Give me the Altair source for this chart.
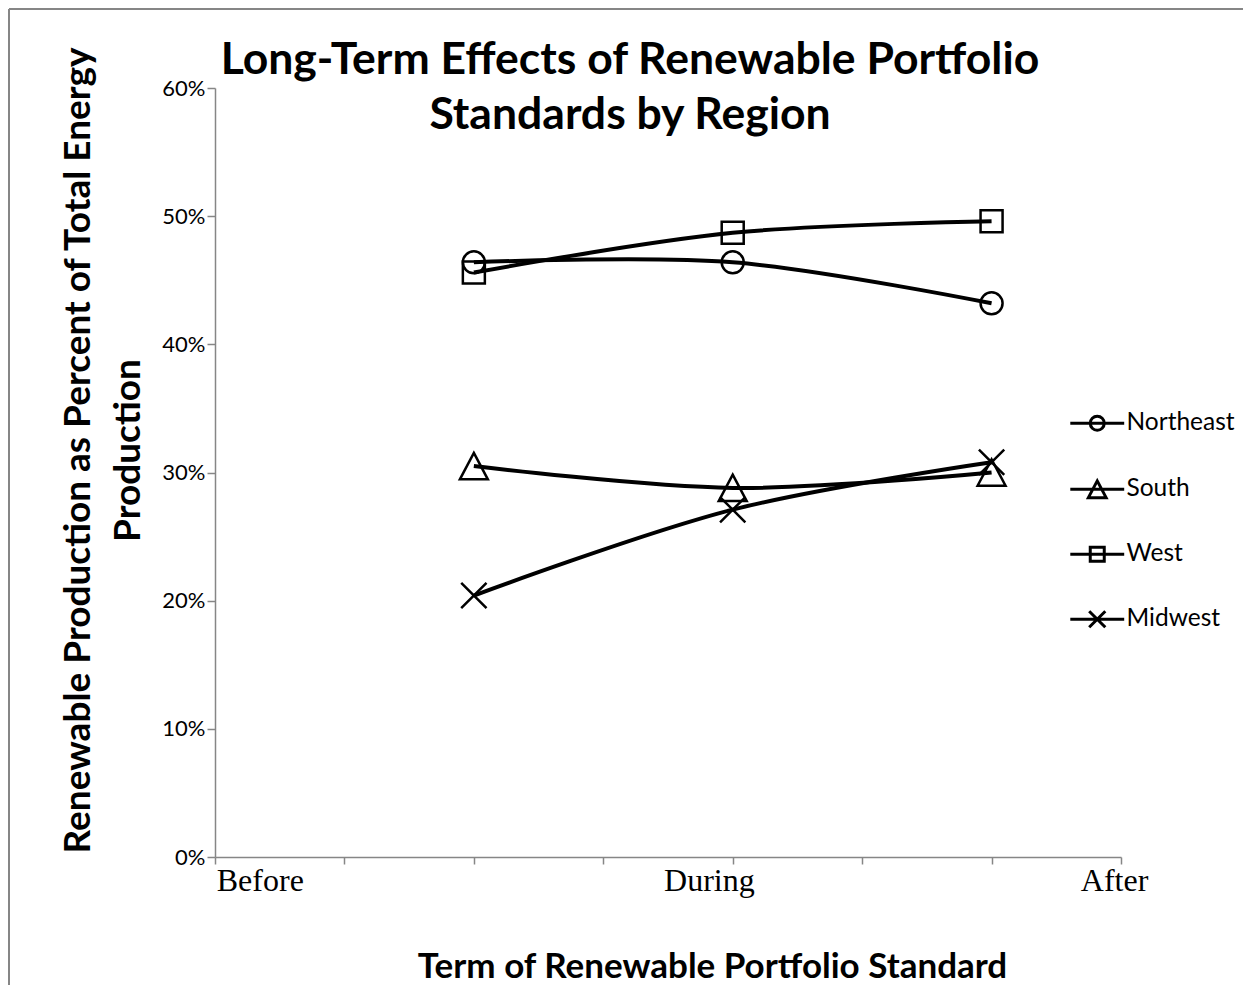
import altair as alt
import pandas as pd

# ---- data ----
regions = ["Northeast", "South", "West", "Midwest"]
stage_pos = [2, 4, 6]                      # positions of the three plotted points on the category axis
northeast = [0.464, 0.464, 0.432]
south = [0.305, 0.288, 0.300]
west = [0.456, 0.487, 0.496]
midwest = [0.204, 0.271, 0.308]

term_labels = ["Before", "During", "After"]
term_label_pos = [0.35, 3.82, 6.95]
x_ticks = [0, 1, 2, 3, 4, 5, 6, 7]
y_ticks = [0, 0.1, 0.2, 0.3, 0.4, 0.5, 0.6]

title_lines = ["Long-Term Effects of Renewable Portfolio", "Standards by Region"]
y_title = ["Renewable Production as Percent of Total Energy", "Production"]
x_title = "Term of Renewable Portfolio Standard"

series = {"Northeast": northeast, "South": south, "West": west, "Midwest": midwest}
rows = []
for r in regions:
    for p, v in zip(stage_pos, series[r]):
        rows.append({"region": r, "pos": p, "value": v})
df = pd.DataFrame(rows)
labels_df = pd.DataFrame({"term": term_labels, "pos": term_label_pos})

# ---- marker shapes ----
circle = "M1,0A1,1,0,1,1,-1,0A1,1,0,1,1,1,0Z"
triangle = "M0,-1.2L1.27,1.2L-1.27,1.2Z"
square = "M-1,-1H1V1H-1Z"
cross = "M-1.15,-1.15L1.15,1.15M-1.15,1.15L1.15,-1.15"
marker_paths = [circle, triangle, square, cross]
leg_line = "M-3.85,0H3.85"
legend_paths = [leg_line + p for p in marker_paths]

GRAY = "#868686"
FONT = "Lato"

x_enc = alt.X("pos:Q", scale=alt.Scale(domain=[0, 7], nice=False, zero=False),
              axis=alt.Axis(values=x_ticks, labels=False, grid=False, tickSize=7,
                            tickColor=GRAY, domainColor=GRAY, tickWidth=1.5, domainWidth=1.5,
                            title=x_title, titleFont=FONT, titleFontSize=35, titleFontWeight="bold",
                            titleColor="black", titleX=497, titleY=120, titleAlign="center",
                            titleBaseline="alphabetic"))
y_enc = alt.Y("value:Q", scale=alt.Scale(domain=[0, 0.6], nice=False),
              axis=alt.Axis(values=y_ticks, format=".0%", grid=False, tickSize=8,
                            tickColor=GRAY, domainColor=GRAY, tickWidth=1.5, domainWidth=1.5,
                            labelFont=FONT, labelFontSize=22, labelColor="black", labelPadding=2,
                            title=y_title, titleFont=FONT, titleFontSize=37, titleFontWeight="bold",
                            titleColor="black", titleX=-126, titleY=362, titleAlign="center",
                            titleBaseline="alphabetic", titleAngle=270, titleLineHeight=50))

lines = alt.Chart(df).mark_line(color="black", strokeWidth=4, interpolate="catmull-rom").encode(
    x=x_enc, y=y_enc, detail="region:N")

markers = alt.Chart(df).mark_point(filled=False, size=484, strokeWidth=2.5, color="black", opacity=1).encode(
    x="pos:Q", y="value:Q",
    shape=alt.Shape("region:N", scale=alt.Scale(domain=regions, range=marker_paths), legend=None))

legend_carrier = alt.Chart(df).mark_point(filled=False, size=196, color="black", opacity=0).encode(
    x="pos:Q", y="value:Q",
    shape=alt.Shape("region:N", scale=alt.Scale(domain=regions, range=legend_paths),
                    legend=alt.Legend(title=None, orient="none", legendX=870, legendY=323,
                                      padding=0, symbolSize=196, symbolOpacity=1,
                                      symbolStrokeColor="black", symbolStrokeWidth=3,
                                      symbolFillColor="transparent",
                                      labelFont=FONT, labelFontSize=24.5, labelColor="black",
                                      labelOffset=17, rowPadding=37)))

x_labels = alt.Chart(labels_df).mark_text(font="Liberation Serif", fontSize=32, color="black",
                                          align="center", baseline="alphabetic").encode(
    x="pos:Q", y=alt.value(803), text="term:N")

title = alt.Chart(alt.Data(values=[{}])).mark_text(
    text=title_lines, font=FONT, fontSize=44.5, fontWeight="bold", color="black",
    align="center", baseline="alphabetic", lineHeight=55).encode(
    x=alt.value(415), y=alt.value(-14))

frame_left = alt.Chart(alt.Data(values=[{}])).mark_rule(color=GRAY, strokeWidth=2).encode(
    x=alt.value(-206), y=alt.value(-79), y2=alt.value(900))
frame_top = alt.Chart(alt.Data(values=[{}])).mark_rule(color=GRAY, strokeWidth=2).encode(
    x=alt.value(-206), x2=alt.value(1030), y=alt.value(-79))

chart = alt.layer(lines, markers, legend_carrier, x_labels, title, frame_left, frame_top).resolve_scale(
    shape="independent").properties(
    width=906, height=769,
    autosize=alt.AutoSizeParams(type="none"),
    padding={"left": 207, "top": 80, "right": 122, "bottom": 128},
).configure(font=FONT, background="white").configure_view(strokeWidth=0, stroke=None)

chart.save("out.html", embed_options={"renderer": "svg", "actions": False})
